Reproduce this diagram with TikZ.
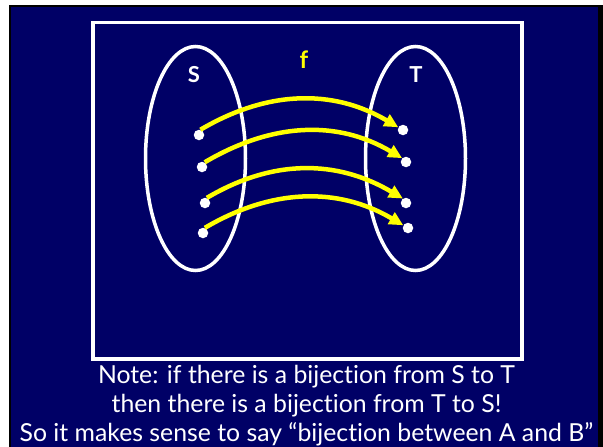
\documentclass[tikz,border=0pt]{standalone}
\usepackage{fontspec}
\setmainfont{Lato}[Ligatures={NoCommon}]
\usetikzlibrary{shapes.geometric,arrows.meta}
\definecolor{navy}{HTML}{000066}
\definecolor{fyellow}{HTML}{FFFF00}
\begin{document}
\begin{tikzpicture}[x=1pt,y=-1pt,
  dot/.style={circle,fill=white,inner sep=0pt,minimum size=10.5pt},
  setshape/.style={ellipse,draw=white,line width=3.5pt,minimum width=100pt,minimum height=224pt,inner sep=0pt},
  maparrow/.style={draw=fyellow,line width=4.5pt,-{Triangle[length=14pt,width=13pt]}},
  setlabel/.style={text=white,font=\fontsize{22}{22}\selectfont\bfseries,inner sep=0pt},
  notetext/.style={text=white,font=\fontsize{24.8}{24.8}\selectfont,inner sep=0pt,anchor=base}]
\useasboundingbox (0,0) rectangle (603,447);
\fill[white] (0,0) rectangle (603,447);
\fill[black] (9,5) rectangle (603,447);
\fill[navy] (11,7) rectangle (598,447);
\node[draw=white,line width=3.5pt,minimum width=429pt,minimum height=336.5pt,inner sep=0pt] (frame) at (307.5,190.75) {};
\node[setshape] (S) at (195.5,158.5) {};
\node[setshape] (T) at (415.5,158.5) {};
\node[setlabel] (Slabel) at (194,75) {S};
\node[setlabel] (Tlabel) at (416,75) {T};
\node[setlabel,text=fyellow,font=\fontsize{24}{24}\selectfont\bfseries] (flabel) at (304,60) {f};
\node[dot] (s1) at (199,135) {};
\node[dot] (s2) at (202,167) {};
\node[dot] (s3) at (205,203) {};
\node[dot] (s4) at (203,233) {};
\node[dot] (t1) at (403,130) {};
\node[dot] (t2) at (406,162) {};
\node[dot] (t3) at (406,203) {};
\node[dot] (t4) at (408,228) {};
\draw[maparrow] (s1.75) .. controls +(66,-39) and +(-66,-39) .. (t1.150);
\draw[maparrow] (s2.60) .. controls +(66,-39) and +(-66,-39) .. (t2.135);
\draw[maparrow] (s3.70) .. controls +(66,-39) and +(-66,-39) .. (t3.125);
\draw[maparrow] (s4.70) .. controls +(66,-39) and +(-66,-39) .. (t4.150);
\node[notetext] (note1) at (306.5,383) {Note: if there is a bijection from S to T};
\node[notetext] (note2) at (306.5,412) {then there is a bijection from T to S!};
\node[notetext] (note3) at (306.5,441) {So it makes sense to say “bijection between A and B”};
\end{tikzpicture}
\end{document}
